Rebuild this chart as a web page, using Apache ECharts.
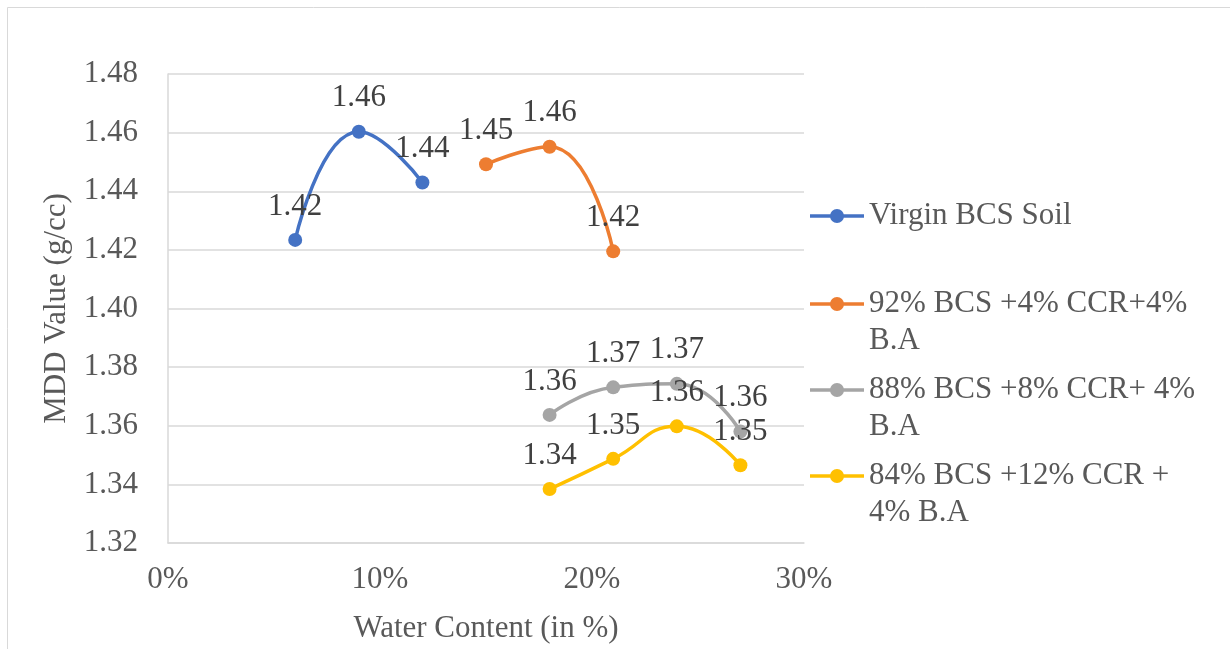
<!DOCTYPE html>
<html>
<head>
<meta charset="utf-8">
<script src="https://cdn.jsdelivr.net/npm/echarts@6/dist/echarts.min.js"></script>
<style>
html,body{margin:0;padding:0;background:#fff;}
#chart{width:1230px;height:649px;}
</style>
</head>
<body>
<div id="chart"></div>
<script>
// ---- data ----
const seriesNames = [
  'Virgin BCS Soil',
  '92% BCS +4% CCR+4% B.A',
  '88% BCS +8% CCR+ 4% B.A',
  '84% BCS +12% CCR + 4% B.A'
];
const legendLines = [
  ['Virgin BCS Soil'],
  ['92% BCS +4% CCR+4%', 'B.A'],
  ['88% BCS +8% CCR+ 4%', 'B.A'],
  ['84% BCS +12% CCR +', '4% B.A']
];
const colors = ['#4472C4', '#ED7D31', '#A5A5A5', '#FFC000'];
const virginX = [6, 9, 12];
const virginY = [1.4234, 1.4603, 1.4430];
const mix92X = [15, 18, 21];
const mix92Y = [1.4492, 1.4552, 1.4195];
const mix88X = [18, 21, 24, 27];
const mix88Y = [1.3637, 1.3731, 1.3743, 1.3580];
const mix84X = [18, 21, 24, 27];
const mix84Y = [1.3384, 1.3487, 1.3598, 1.3465];
const xTicks = [0, 10, 20, 30];
const yTicks = [1.32, 1.34, 1.36, 1.38, 1.40, 1.42, 1.44, 1.46, 1.48];

const allX = [virginX, mix92X, mix88X, mix84X];
const allY = [virginY, mix92Y, mix88Y, mix84Y];

const FONT = 'Liberation Serif';

const series = seriesNames.map((name, i) => ({
  name: name,
  type: 'line',
  smooth: 0.5,
  data: allX[i].map((x, k) => [x, allY[i][k]]),
  symbol: 'circle',
  symbolSize: 14,
  lineStyle: { color: colors[i], width: 3.5 },
  itemStyle: { color: colors[i] },
  label: {
    show: true,
    position: 'top',
    distance: 11,
    fontFamily: FONT,
    fontSize: 31,
    color: '#404040',
    formatter: p => p.value[1].toFixed(2)
  },
  z: 2 + i
}));

// first-line centres of each legend entry
const legendCenters = [216, 304, 390, 476];
const LH = 37;
const legends = seriesNames.map((name, i) => {
  const lines = legendLines[i];
  const text = lines.length > 1 ? '\n' + lines.join('\n') : lines[0];
  const boxH = lines.length > 1 ? LH * 3 : LH;
  return {
    data: [name],
    left: 810,
    top: legendCenters[i] - boxH / 2,
    orient: 'vertical',
    itemWidth: 54,
    itemHeight: 14,
    itemGap: 0,
    padding: 0,
    selectedMode: false,
    icon: 'path://M0,0L54,0L54,3.5L0,3.5Z',
    formatter: () => text,
    textStyle: {
      fontFamily: FONT,
      fontSize: 31,
      color: '#595959',
      lineHeight: LH
    }
  };
});

const chart = echarts.init(document.getElementById('chart'), null, { renderer: 'canvas' });
chart.setOption({
  animation: false,
  backgroundColor: '#fff',
  color: colors,
  graphic: [
    {
      type: 'rect',
      shape: { x: 7.5, y: 7.5, width: 1240, height: 700 },
      style: { fill: 'none', stroke: '#d9d9d9', lineWidth: 1 },
      silent: true, z: 0
    }
  ].concat(legendLines.map((lines, i) => ({
    type: 'circle',
    shape: { cx: 837, cy: legendCenters[i], r: 7 },
    style: { fill: colors[i] },
    silent: true, z: 100
  }))),
  grid: { left: 168, right: 426, top: 74, bottom: 99, containLabel: false },
  xAxis: {
    type: 'value',
    min: xTicks[0],
    max: xTicks[xTicks.length - 1],
    interval: 10,
    name: 'Water Content (in %)',
    nameLocation: 'middle',
    nameGap: 70,
    nameTextStyle: { fontFamily: FONT, fontSize: 31, color: '#595959' },
    axisLine: { show: true, lineStyle: { color: '#d9d9d9', width: 1.5 } },
    axisTick: { show: false },
    splitLine: { show: false },
    axisLabel: {
      fontFamily: FONT, fontSize: 31, color: '#595959', margin: 21,
      formatter: v => v + '%'
    }
  },
  yAxis: {
    type: 'value',
    min: yTicks[0],
    max: yTicks[yTicks.length - 1],
    interval: 0.02,
    name: 'MDD Value (g/cc)',
    nameLocation: 'middle',
    nameGap: 85,
    nameTextStyle: { fontFamily: FONT, fontSize: 31, color: '#595959' },
    axisLine: { show: true, lineStyle: { color: '#d9d9d9', width: 1.5 } },
    axisTick: { show: false },
    splitLine: { show: true, lineStyle: { color: '#d9d9d9', width: 1.5 } },
    axisLabel: {
      fontFamily: FONT, fontSize: 31, color: '#595959', margin: 30,
      formatter: v => v.toFixed(2)
    }
  },
  legend: legends,
  series: series
});
</script>
</body>
</html>
